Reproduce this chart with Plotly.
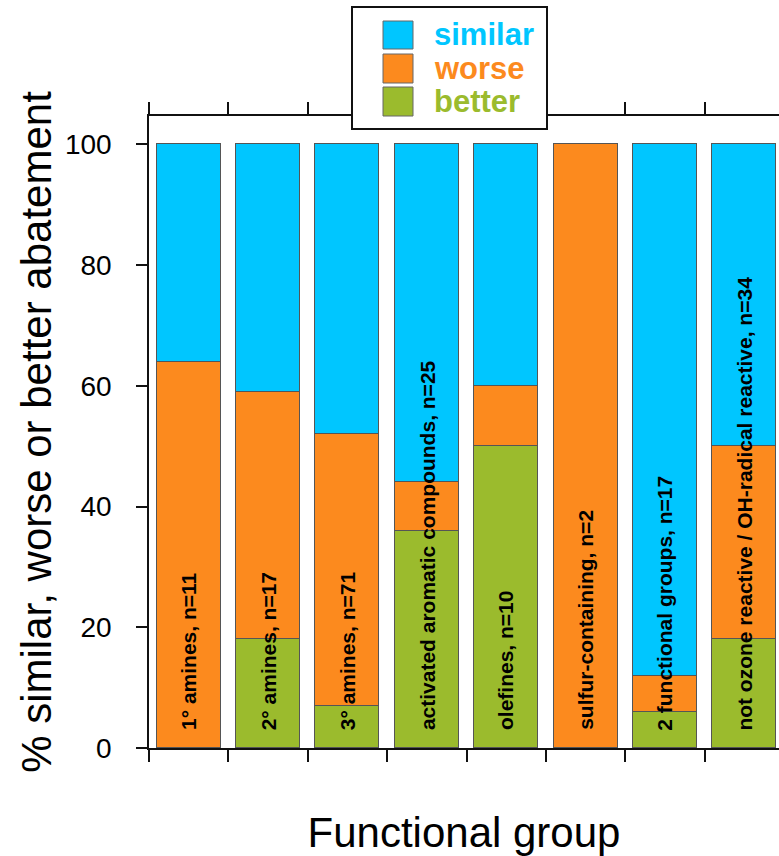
import plotly.graph_objects as go

# ---- data ----
groups = [
    "1° amines, n=11",
    "2° amines, n=17",
    "3° amines, n=71",
    "activated aromatic compounds, n=25",
    "olefines, n=10",
    "sulfur-containing, n=2",
    "2 functional groups, n=17",
    "not ozone reactive / OH-radical reactive, n=34",
]
better = [0, 18, 7, 36, 50, 0, 6, 18]
worse = [64, 41, 45, 8, 10, 100, 6, 32]
similar = [36, 41, 48, 56, 40, 0, 88, 50]
y_ticks = [0, 20, 40, 60, 80, 100]
series_names = ["similar", "worse", "better"]

C_SIM = "#00C6FF"
C_WOR = "#FC8A1E"
C_BET = "#9BBB2D"

W, H = 779, 856
L, T, B = 149, 116, 108
PW = W - L
PH = H - T - B
CAT = 79.375  # px per category

def px_x(p):
    return (p - L) / PW

def px_y(p):
    return (H - B - p) / PH

x = list(range(len(groups)))
fig = go.Figure()
for name, vals, col in [("better", better, C_BET), ("worse", worse, C_WOR), ("similar", similar, C_SIM)]:
    fig.add_trace(go.Bar(
        x=x, y=vals, name=name, marker=dict(color=col, line=dict(color="#555555", width=1)),
        width=0.806, showlegend=False, hoverinfo="y+name",
    ))

# rotated labels inside bars
for i, g in enumerate(groups):
    fig.add_annotation(
        x=i, y=2.6, xref="x", yref="y", text="<b>%s</b>" % g, textangle=-90,
        xanchor="center", yanchor="bottom", showarrow=False,
        font=dict(family="Arial, Liberation Sans, sans-serif", size=21, color="#000"),
    )

# manual legend
fig.add_shape(type="rect", xref="paper", yref="paper",
              x0=px_x(352), x1=px_x(547), y0=px_y(129), y1=px_y(7),
              fillcolor="white", line=dict(color="#111", width=2), layer="above")
leg = [("similar", C_SIM, 21, 49), ("worse", C_WOR, 54, 83), ("better", C_BET, 87, 116)]
for (nm, col, ya, yb), lab in zip(leg, series_names):
    fig.add_shape(type="rect", xref="paper", yref="paper",
                  x0=px_x(383), x1=px_x(413), y0=px_y(yb), y1=px_y(ya),
                  fillcolor=col, line=dict(color="#666", width=1), layer="above")
    fig.add_annotation(x=px_x(432), y=px_y((ya + yb) / 2), xref="paper", yref="paper",
                       text="<b>%s</b>" % lab, showarrow=False, xanchor="left", yanchor="middle",
                       font=dict(family="Arial, Liberation Sans, sans-serif", size=31, color=col))

fig.update_layout(
    barmode="stack",
    width=W, height=H,
    margin=dict(l=L, r=0, t=T, b=B, pad=0),
    plot_bgcolor="white", paper_bgcolor="white",
    font=dict(family="Arial, Liberation Sans, sans-serif", color="#000"),
    bargap=0,
)
fig.update_xaxes(
    range=[-0.5, -0.5 + PW / CAT],
    tickmode="array", tickvals=[i - 0.5 for i in range(len(groups) + 1)],
    showticklabels=False, ticks="outside", ticklen=12, tickwidth=1.5, tickcolor="#111",
    showline=True, linecolor="#111", linewidth=1.5, mirror="ticks",
    showgrid=False, zeroline=False,
    title=dict(text="Functional group", font=dict(size=42), standoff=62),
)
fig.update_yaxes(
    range=[0, 104.7], tickmode="array", tickvals=y_ticks,
    ticks="outside", ticklen=11, tickwidth=1.5, tickcolor="#111",
    showline=True, linecolor="#111", linewidth=1.5, mirror=False,
    showgrid=False, zeroline=False,
    tickfont=dict(size=28), ticklabelstandoff=19,
    title=dict(text="% similar, worse or better abatement", font=dict(size=42), standoff=0),
)

fig.write_html("out.html")
